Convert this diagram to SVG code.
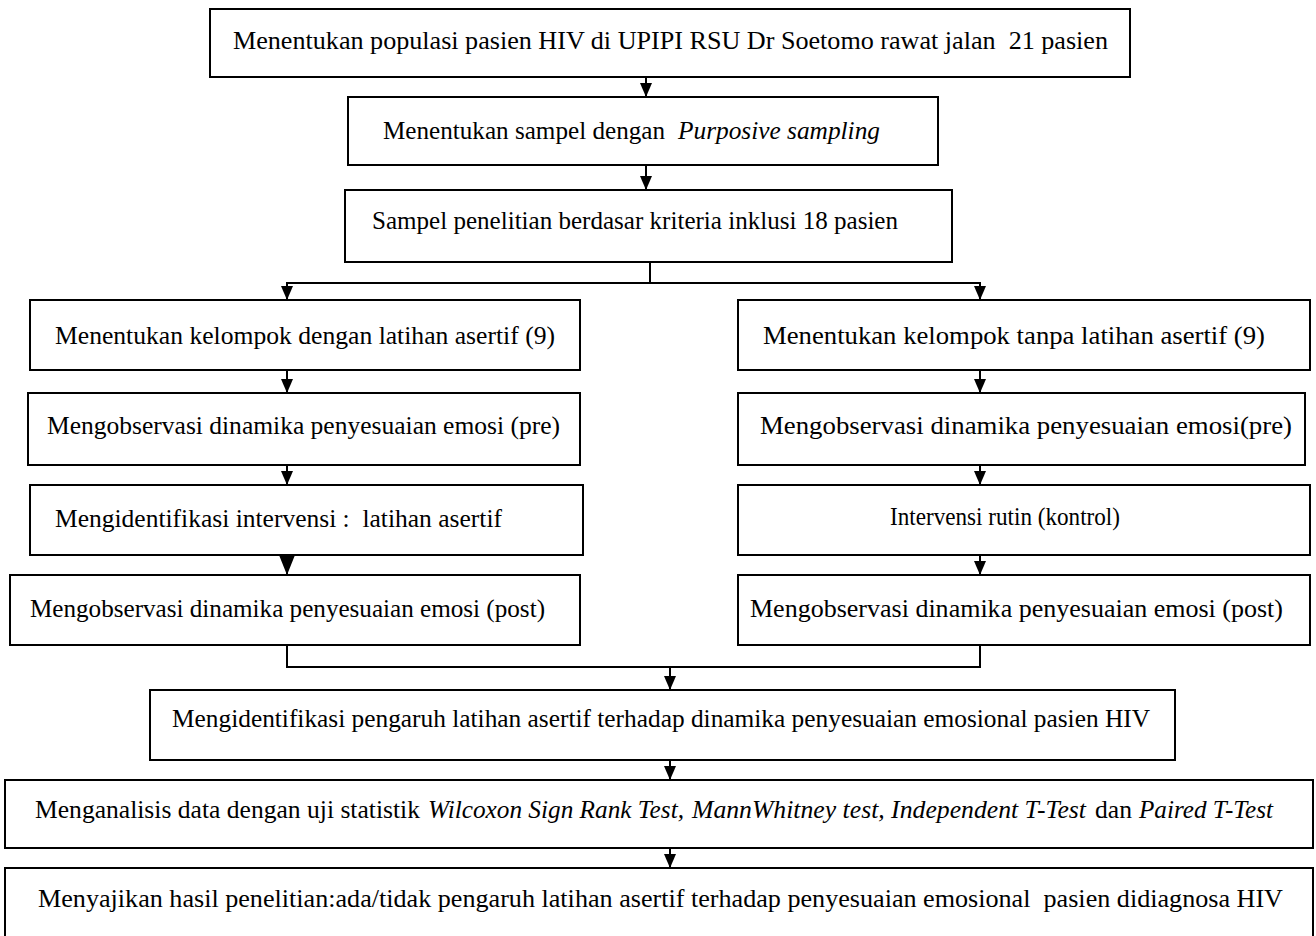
<svg xmlns="http://www.w3.org/2000/svg" width="1316" height="936" viewBox="0 0 1316 936">
<style>
.box{fill:#fff;stroke:#000;stroke-width:2}
.t{font-family:"Liberation Serif","Times New Roman",serif;font-size:26px;fill:#000;white-space:pre}
.i{font-style:italic}
.ln{fill:none;stroke:#000;stroke-width:2}
</style>
<defs>
<marker id="ah" markerWidth="12" markerHeight="14" refX="6" refY="14" markerUnits="userSpaceOnUse" viewBox="0 0 12 14">
<path d="M0,0 L12,0 L6,14 Z" fill="#000"/>
</marker>
<marker id="ahb" markerWidth="16" markerHeight="20" refX="8" refY="20" markerUnits="userSpaceOnUse" viewBox="0 0 16 20">
<path d="M0,0 L16,0 L8,20 Z" fill="#000"/>
</marker>
</defs>
<rect width="1316" height="936" fill="#fff"/>
<g id="connectors">
<path class="ln" d="M646,77 V97" marker-end="url(#ah)"/>
<path class="ln" d="M646,165 V190" marker-end="url(#ah)"/>
<path class="ln" d="M650,262 V283 H287 V300" marker-end="url(#ah)"/>
<path class="ln" d="M650,283 H980 V300" marker-end="url(#ah)"/>
<path class="ln" d="M287,370 V393" marker-end="url(#ah)"/>
<path class="ln" d="M980,370 V393" marker-end="url(#ah)"/>
<path class="ln" d="M287,465 V485" marker-end="url(#ah)"/>
<path class="ln" d="M980,465 V485" marker-end="url(#ah)"/>
<path class="ln" d="M287,555 V575" marker-end="url(#ahb)"/>
<path class="ln" d="M980,555 V575" marker-end="url(#ah)"/>
<path class="ln" d="M287,645 V667 H980 V645"/>
<path class="ln" d="M670,667 V690" marker-end="url(#ah)"/>
<path class="ln" d="M670,760 V780" marker-end="url(#ah)"/>
<path class="ln" d="M670,848 V868" marker-end="url(#ah)"/>
</g>
<g id="n1"><rect class="box" x="210" y="9" width="920" height="68"/>
<text class="t" x="233" y="49" textLength="875" lengthAdjust="spacingAndGlyphs">Menentukan populasi pasien HIV di UPIPI RSU Dr Soetomo rawat jalan  21 pasien</text></g>
<g id="n2"><rect class="box" x="348" y="97" width="590" height="68"/>
<text class="t" x="383" y="139" textLength="282" lengthAdjust="spacingAndGlyphs">Menentukan sampel dengan</text>
<text class="t i" x="678" y="139" textLength="202" lengthAdjust="spacingAndGlyphs">Purposive sampling</text></g>
<g id="n3"><rect class="box" x="345" y="190" width="607" height="72"/>
<text class="t" x="372" y="229" textLength="526" lengthAdjust="spacingAndGlyphs">Sampel penelitian berdasar kriteria inklusi 18 pasien</text></g>
<g id="n4"><rect class="box" x="30" y="300" width="550" height="70"/>
<text class="t" x="55" y="344" textLength="500" lengthAdjust="spacingAndGlyphs">Menentukan kelompok dengan latihan asertif (9)</text></g>
<g id="n5"><rect class="box" x="738" y="300" width="572" height="70"/>
<text class="t" x="763" y="344" textLength="502" lengthAdjust="spacingAndGlyphs">Menentukan kelompok tanpa latihan asertif (9)</text></g>
<g id="n6"><rect class="box" x="28" y="393" width="552" height="72"/>
<text class="t" x="47" y="434" textLength="513" lengthAdjust="spacingAndGlyphs">Mengobservasi dinamika penyesuaian emosi (pre)</text></g>
<g id="n7"><rect class="box" x="738" y="393" width="567" height="72"/>
<text class="t" x="760" y="434" textLength="532" lengthAdjust="spacingAndGlyphs">Mengobservasi dinamika penyesuaian emosi(pre)</text></g>
<g id="n8"><rect class="box" x="30" y="485" width="553" height="70"/>
<text class="t" x="55" y="527" textLength="447" lengthAdjust="spacingAndGlyphs">Mengidentifikasi intervensi :  latihan asertif</text></g>
<g id="n9"><rect class="box" x="738" y="485" width="572" height="70"/>
<text class="t" x="890" y="525" textLength="230" lengthAdjust="spacingAndGlyphs">Intervensi rutin (kontrol)</text></g>
<g id="n10"><rect class="box" x="10" y="575" width="570" height="70"/>
<text class="t" x="30" y="617" textLength="515" lengthAdjust="spacingAndGlyphs">Mengobservasi dinamika penyesuaian emosi (post)</text></g>
<g id="n11"><rect class="box" x="738" y="575" width="572" height="70"/>
<text class="t" x="750" y="617" textLength="533" lengthAdjust="spacingAndGlyphs">Mengobservasi dinamika penyesuaian emosi (post)</text></g>
<g id="n12"><rect class="box" x="150" y="690" width="1025" height="70"/>
<text class="t" x="172" y="727" textLength="978" lengthAdjust="spacingAndGlyphs">Mengidentifikasi pengaruh latihan asertif terhadap dinamika penyesuaian emosional pasien HIV</text></g>
<g id="n13"><rect class="box" x="5" y="780" width="1308" height="68"/>
<text class="t" x="35" y="818" textLength="385" lengthAdjust="spacingAndGlyphs">Menganalisis data dengan uji statistik</text>
<text class="t i" x="428" y="818" textLength="256" lengthAdjust="spacingAndGlyphs">Wilcoxon Sign Rank Test,</text>
<text class="t i" x="692" y="818" textLength="394" lengthAdjust="spacingAndGlyphs">MannWhitney test, Independent T-Test</text>
<text class="t" x="1095" y="818" textLength="37" lengthAdjust="spacingAndGlyphs">dan</text>
<text class="t i" x="1139" y="818" textLength="134" lengthAdjust="spacingAndGlyphs">Paired T-Test</text></g>
<g id="n14"><rect class="box" x="5" y="868" width="1308" height="80"/>
<text class="t" x="38" y="907" textLength="1245" lengthAdjust="spacingAndGlyphs">Menyajikan hasil penelitian:ada/tidak pengaruh latihan asertif terhadap penyesuaian emosional  pasien didiagnosa HIV</text></g>
</svg>
